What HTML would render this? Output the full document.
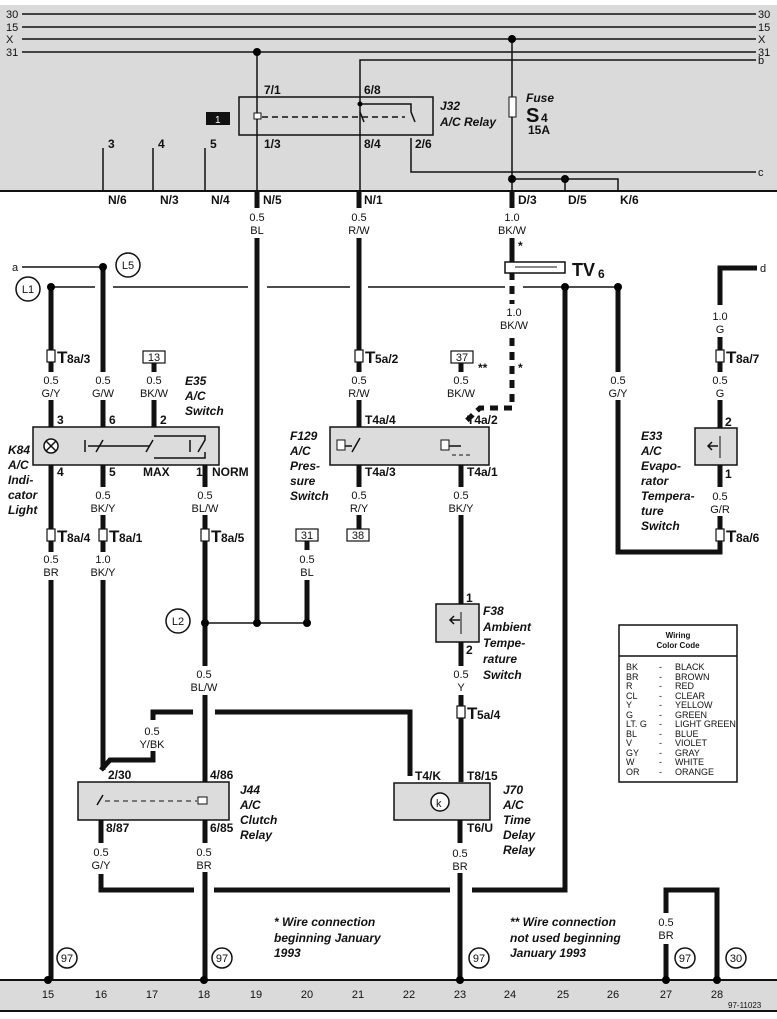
<!DOCTYPE html>
<html><head><meta charset="utf-8"><style>
html,body{margin:0;padding:0;background:#fff}
svg{display:block}
text{font-family:"Liberation Sans",Arial,sans-serif;fill:#111}
.b{font-weight:bold;font-size:12px}
.i{font-weight:bold;font-style:italic;font-size:12px}
.s{font-size:11px}
.th{stroke:#111;stroke-width:5;fill:none}
.tn{stroke:#111;stroke-width:1.5;fill:none}
.bx{fill:#dcdcdc;stroke:#111;stroke-width:1.5}
</style></head><body>
<svg width="777" height="1019" viewBox="0 0 777 1019" xmlns="http://www.w3.org/2000/svg">
<rect x="0" y="5" width="777" height="186" fill="#dadada"/>
<rect x="0" y="980" width="777" height="31" fill="#dadada"/>
<line x1="0" y1="191" x2="777" y2="191" stroke="#111" stroke-width="2"/>
<line x1="0" y1="980" x2="777" y2="980" stroke="#111" stroke-width="2"/>
<line x1="0" y1="1011" x2="777" y2="1011" stroke="#111" stroke-width="2"/>
<g class="tn">
<line x1="22" y1="14" x2="756" y2="14"/><line x1="22" y1="27" x2="756" y2="27"/>
<line x1="22" y1="39" x2="756" y2="39"/><line x1="22" y1="52" x2="756" y2="52"/>
<polyline points="756,60 360,60 360,90"/>
<line x1="257" y1="52" x2="257" y2="191"/>
<line x1="360" y1="90" x2="360" y2="191"/>
<line x1="512" y1="39" x2="512" y2="191"/>
<polyline points="411,138 411,172 756,172"/>
<polyline points="512,179 618,179 618,191"/><line x1="565" y1="179" x2="565" y2="191"/>
<line x1="103" y1="148" x2="103" y2="191"/><line x1="153" y1="148" x2="153" y2="191"/><line x1="205" y1="148" x2="205" y2="191"/>
</g>
<g class="s"><text x="6" y="18">30</text><text x="6" y="31">15</text><text x="6" y="43">X</text><text x="6" y="56">31</text>
<text x="758" y="18">30</text><text x="758" y="31">15</text><text x="758" y="43">X</text><text x="758" y="56">31</text><text x="758" y="64">b</text><text x="758" y="176">c</text></g>
<circle cx="257" cy="52" r="4"/><circle cx="512" cy="39" r="4"/><circle cx="512" cy="179" r="4"/><circle cx="565" cy="179" r="4"/>
<rect x="239" y="97" width="194" height="38" fill="none" stroke="#111" stroke-width="1.5"/>
<rect x="206" y="112" width="24" height="13" fill="#111"/><text x="215" y="123" style="fill:#fff;font-size:10px">1</text>
<rect x="254" y="113" width="7" height="6" fill="#fff" stroke="#111"/>
<line x1="262" y1="117" x2="405" y2="117" stroke="#111" stroke-dasharray="6,4" stroke-width="1.5"/>
<polyline points="360,104 411,104 411,112 415,122" class="tn"/><circle cx="360" cy="104" r="2.5"/>
<line x1="360" y1="112" x2="364" y2="122" class="tn"/>
<text class="i" x="440" y="110">J32</text><text class="i" x="440" y="126">A/C Relay</text>
<g class="b"><text x="264" y="94">7/1</text><text x="364" y="94">6/8</text><text x="264" y="148">1/3</text><text x="364" y="148">8/4</text><text x="415" y="148">2/6</text>
<text x="108" y="148">3</text><text x="158" y="148">4</text><text x="210" y="148">5</text>
<text x="108" y="204">N/6</text><text x="160" y="204">N/3</text><text x="211" y="204">N/4</text><text x="263" y="204">N/5</text><text x="364" y="204">N/1</text><text x="518" y="204">D/3</text><text x="568" y="204">D/5</text><text x="620" y="204">K/6</text></g>
<rect x="509" y="97" width="7" height="20" fill="#fff" stroke="#111"/>
<text class="i" x="526" y="102">Fuse</text><text x="526" y="122" style="font-weight:bold;font-size:20px">S</text><text class="b" x="541" y="122">4</text><text class="b" x="528" y="134">15A</text>
<g class="s" text-anchor="middle">
<text x="257" y="221">0.5</text><text x="257" y="234">BL</text>
<text x="359" y="221">0.5</text><text x="359" y="234">R/W</text>
<text x="512" y="221">1.0</text><text x="512" y="234">BK/W</text>
<text x="514" y="316">1.0</text><text x="514" y="329">BK/W</text>
<text x="51" y="384">0.5</text><text x="51" y="397">G/Y</text>
<text x="103" y="384">0.5</text><text x="103" y="397">G/W</text>
<text x="154" y="384">0.5</text><text x="154" y="397">BK/W</text>
<text x="359" y="384">0.5</text><text x="359" y="397">R/W</text>
<text x="461" y="384">0.5</text><text x="461" y="397">BK/W</text>
<text x="618" y="384">0.5</text><text x="618" y="397">G/Y</text>
<text x="720" y="320">1.0</text><text x="720" y="333">G</text>
<text x="720" y="384">0.5</text><text x="720" y="397">G</text>
<text x="103" y="499">0.5</text><text x="103" y="512">BK/Y</text>
<text x="205" y="499">0.5</text><text x="205" y="512">BL/W</text>
<text x="359" y="499">0.5</text><text x="359" y="512">R/Y</text>
<text x="461" y="499">0.5</text><text x="461" y="512">BK/Y</text>
<text x="720" y="500">0.5</text><text x="720" y="513">G/R</text>
<text x="51" y="563">0.5</text><text x="51" y="576">BR</text>
<text x="103" y="563">1.0</text><text x="103" y="576">BK/Y</text>
<text x="307" y="563">0.5</text><text x="307" y="576">BL</text>
<text x="204" y="678">0.5</text><text x="204" y="691">BL/W</text>
<text x="461" y="678">0.5</text><text x="461" y="691">Y</text>
<text x="152" y="735">0.5</text><text x="152" y="748">Y/BK</text>
<text x="101" y="856">0.5</text><text x="101" y="869">G/Y</text>
<text x="204" y="856">0.5</text><text x="204" y="869">BR</text>
<text x="460" y="857">0.5</text><text x="460" y="870">BR</text>
<text x="666" y="926">0.5</text><text x="666" y="939">BR</text>
</g>
<g class="th">
<line x1="257" y1="191" x2="257" y2="208"/><line x1="257" y1="238" x2="257" y2="623"/>
<line x1="359" y1="191" x2="359" y2="208"/><line x1="359" y1="238" x2="359" y2="372"/><line x1="359" y1="400" x2="359" y2="427"/>
<line x1="512" y1="191" x2="512" y2="208"/><line x1="512" y1="238" x2="512" y2="262"/>
<line x1="51" y1="287" x2="51" y2="372"/><line x1="51" y1="400" x2="51" y2="427"/>
<line x1="103" y1="267" x2="103" y2="372"/><line x1="103" y1="400" x2="103" y2="427"/>
<line x1="154" y1="363" x2="154" y2="372"/><line x1="154" y1="400" x2="154" y2="427"/>
<line x1="461" y1="363" x2="461" y2="372"/>
<line x1="51" y1="465" x2="51" y2="552"/><line x1="51" y1="580" x2="51" y2="980"/>
<line x1="103" y1="465" x2="103" y2="487"/><line x1="103" y1="515" x2="103" y2="552"/><line x1="103" y1="580" x2="103" y2="770"/>
<line x1="205" y1="465" x2="205" y2="487"/><line x1="205" y1="515" x2="205" y2="666"/><line x1="205" y1="695" x2="205" y2="782"/>
<line x1="359" y1="465" x2="359" y2="487"/><line x1="359" y1="515" x2="359" y2="529"/>
<line x1="461" y1="465" x2="461" y2="487"/><line x1="461" y1="515" x2="461" y2="604"/>
<line x1="461" y1="642" x2="461" y2="666"/><line x1="461" y1="695" x2="461" y2="782"/>
<line x1="307" y1="541" x2="307" y2="550"/><line x1="307" y1="580" x2="307" y2="623"/>
<polyline points="565,287 565,890 472,890"/><line x1="450" y1="890" x2="214" y2="890"/><polyline points="194,890 101,890 101,874"/>
<line x1="101" y1="820" x2="101" y2="843"/>
<line x1="205" y1="820" x2="205" y2="843"/><line x1="205" y1="872" x2="205" y2="980"/>
<line x1="460" y1="820" x2="460" y2="843"/><line x1="460" y1="873" x2="460" y2="980"/>
<polyline points="618,287 618,372"/><polyline points="618,400 618,552 720,552 720,535"/>
<polyline points="757,268 720,268 720,305"/><line x1="720" y1="337" x2="720" y2="372"/><line x1="720" y1="400" x2="720" y2="428"/>
<line x1="720" y1="465" x2="720" y2="487"/><line x1="720" y1="516" x2="720" y2="530"/>
<polyline points="101,770 110,760 153,760 153,751"/><polyline points="153,720 153,712 193,712"/><polyline points="215,712 410,712 410,776"/>
<polyline points="666,913 666,890 717,890 717,980"/><line x1="666" y1="944" x2="666" y2="980"/>
</g>
<line x1="512" y1="272" x2="512" y2="304" stroke="#111" stroke-width="5" stroke-dasharray="8,6"/>
<polyline points="512,338 512,408 480,408 463,424" fill="none" stroke="#111" stroke-width="5" stroke-dasharray="8,6"/>
<g class="tn"><line x1="22" y1="267" x2="103" y2="267"/>
<line x1="51" y1="287" x2="95" y2="287"/><line x1="113" y1="287" x2="248" y2="287"/><line x1="267" y1="287" x2="350" y2="287"/><line x1="368" y1="287" x2="505" y2="287"/><line x1="523" y1="287" x2="618" y2="287"/>
<line x1="205" y1="623" x2="307" y2="623"/></g>
<g><circle cx="103" cy="267" r="4"/><circle cx="51" cy="287" r="4"/><circle cx="565" cy="287" r="4"/><circle cx="618" cy="287" r="4"/>
<circle cx="205" cy="623" r="4"/><circle cx="257" cy="623" r="4"/><circle cx="307" cy="623" r="4"/>
<circle cx="48" cy="980" r="4"/><circle cx="204" cy="980" r="4"/><circle cx="460" cy="980" r="4"/><circle cx="666" cy="980" r="4"/><circle cx="717" cy="980" r="4"/></g>
<text class="s" x="12" y="271">a</text><text class="s" x="760" y="272">d</text>
<g fill="#fff" stroke="#111" stroke-width="1.5">
<circle cx="28" cy="289" r="12"/><circle cx="128" cy="265" r="12"/><circle cx="178" cy="621" r="12"/>
<circle cx="67" cy="958" r="10"/><circle cx="222" cy="958" r="10"/><circle cx="479" cy="958" r="10"/><circle cx="685" cy="958" r="10"/><circle cx="736" cy="958" r="10"/></g>
<g class="s" text-anchor="middle"><text x="28" y="293">L1</text><text x="128" y="269">L5</text><text x="178" y="625">L2</text>
<text x="67" y="962">97</text><text x="222" y="962">97</text><text x="479" y="962">97</text><text x="685" y="962">97</text><text x="736" y="962">30</text></g>
<rect x="505" y="262" width="60" height="11" fill="#fff" stroke="#111" stroke-width="1.5"/>
<line x1="515" y1="267" x2="557" y2="267" stroke="#111"/>
<text x="572" y="276" style="font-weight:bold;font-size:18px">TV</text><text class="b" x="598" y="278">6</text>
<text class="b" x="518" y="250">*</text><text class="b" x="518" y="372">*</text><text class="b" x="478" y="372">**</text>
<g fill="#fff" stroke="#111" stroke-width="1.2">
<rect x="47" y="350" width="8" height="12"/><rect x="355" y="350" width="8" height="12"/><rect x="716" y="350" width="8" height="12"/>
<rect x="47" y="529" width="8" height="12"/><rect x="99" y="529" width="8" height="12"/><rect x="201" y="529" width="8" height="12"/><rect x="716" y="529" width="8" height="12"/>
<rect x="457" y="706" width="8" height="12"/>
<rect x="143" y="351" width="22" height="12"/><rect x="451" y="351" width="22" height="12"/><rect x="296" y="529" width="22" height="12"/><rect x="347" y="529" width="22" height="12"/>
</g>
<g style="font-weight:bold;font-size:17px">
<text x="57" y="363">T</text><text x="365" y="363">T</text><text x="726" y="363">T</text>
<text x="57" y="542">T</text><text x="109" y="542">T</text><text x="211" y="542">T</text><text x="726" y="542">T</text><text x="467" y="719">T</text></g>
<g class="b"><text x="67" y="363">8a/3</text><text x="375" y="363">5a/2</text><text x="736" y="363">8a/7</text>
<text x="67" y="542">8a/4</text><text x="119" y="542">8a/1</text><text x="221" y="542">8a/5</text><text x="736" y="542">8a/6</text><text x="477" y="719">5a/4</text></g>
<g class="s" text-anchor="middle"><text x="154" y="361">13</text><text x="462" y="361">37</text><text x="307" y="539">31</text><text x="358" y="539">38</text></g>
<rect class="bx" x="33" y="427" width="186" height="38"/>
<circle cx="51" cy="446" r="7" fill="#fff" stroke="#111" stroke-width="1.5"/><path d="M46 441 L56 451 M56 441 L46 451" stroke="#111" stroke-width="1.5"/>
<g class="tn"><line x1="88" y1="446" x2="150" y2="446"/><line x1="85" y1="440" x2="85" y2="452"/><line x1="96" y1="452" x2="103" y2="440"/><line x1="146" y1="452" x2="153" y2="440"/>
<polyline points="154,436 205,436 205,440 198,452"/><polyline points="154,458 205,458 205,452"/><line x1="190" y1="440" x2="190" y2="452"/></g>
<g class="b"><text x="57" y="424">3</text><text x="109" y="424">6</text><text x="160" y="424">2</text><text x="57" y="476">4</text><text x="109" y="476">5</text><text x="143" y="476">MAX</text><text x="196" y="476">1</text><text x="212" y="476">NORM</text></g>
<text class="i" x="185" y="385">E35</text><text class="i" x="185" y="400">A/C</text><text class="i" x="185" y="415">Switch</text>
<text class="i" x="8" y="454">K84</text><text class="i" x="8" y="469">A/C</text><text class="i" x="8" y="484">Indi-</text><text class="i" x="8" y="499">cator</text><text class="i" x="8" y="514">Light</text>
<rect class="bx" x="330" y="427" width="159" height="38"/>
<rect x="337" y="440" width="8" height="10" fill="#fff" stroke="#111"/><line x1="345" y1="446" x2="352" y2="446" class="tn"/><line x1="352" y1="452" x2="360" y2="438" class="tn"/>
<rect x="441" y="440" width="8" height="10" fill="#fff" stroke="#111"/><line x1="449" y1="446" x2="461" y2="446" class="tn"/><line x1="452" y1="455" x2="472" y2="455" stroke="#111" stroke-dasharray="4,3"/>
<g class="b"><text x="365" y="424">T4a/4</text><text x="467" y="424">T4a/2</text><text x="365" y="476">T4a/3</text><text x="467" y="476">T4a/1</text></g>
<text class="i" x="290" y="440">F129</text><text class="i" x="290" y="455">A/C</text><text class="i" x="290" y="470">Pres-</text><text class="i" x="290" y="485">sure</text><text class="i" x="290" y="500">Switch</text>
<rect class="bx" x="695" y="428" width="42" height="37"/>
<path d="M708 446 L718 446 M712 442 L708 446 L712 450" stroke="#111" fill="none" stroke-width="1.5"/><line x1="720" y1="436" x2="720" y2="458" stroke="#111"/>
<g class="b"><text x="725" y="426">2</text><text x="725" y="478">1</text></g>
<text class="i" x="641" y="440">E33</text><text class="i" x="641" y="455">A/C</text><text class="i" x="641" y="470">Evapo-</text><text class="i" x="641" y="485">rator</text><text class="i" x="641" y="500">Tempera-</text><text class="i" x="641" y="515">ture</text><text class="i" x="641" y="530">Switch</text>
<rect class="bx" x="436" y="604" width="43" height="38"/>
<path d="M450 620 L460 620 M454 616 L450 620 L454 624" stroke="#111" fill="none" stroke-width="1.5"/><line x1="461" y1="612" x2="461" y2="634" stroke="#111"/>
<g class="b"><text x="466" y="602">1</text><text x="466" y="654">2</text></g>
<text class="i" x="483" y="615">F38</text><text class="i" x="483" y="631">Ambient</text><text class="i" x="483" y="647">Tempe-</text><text class="i" x="483" y="663">rature</text><text class="i" x="483" y="679">Switch</text>
<rect x="619" y="625" width="118" height="157" fill="#fff" stroke="#111" stroke-width="1.5"/>
<line x1="619" y1="656" x2="737" y2="656" stroke="#111" stroke-width="1.5"/>
<g style="font-size:8px;font-weight:bold" text-anchor="middle"><text x="678" y="638">Wiring</text><text x="678" y="648">Color Code</text></g>
<g style="font-size:9px"><text x="626" y="670">BK</text><text x="626" y="680">BR</text><text x="626" y="689">R</text><text x="626" y="699">CL</text><text x="626" y="708">Y</text><text x="626" y="718">G</text><text x="626" y="727">LT. G</text><text x="626" y="737">BL</text><text x="626" y="746">V</text><text x="626" y="756">GY</text><text x="626" y="765">W</text><text x="626" y="775">OR</text>
<text x="659" y="670">-</text><text x="659" y="680">-</text><text x="659" y="689">-</text><text x="659" y="699">-</text><text x="659" y="708">-</text><text x="659" y="718">-</text><text x="659" y="727">-</text><text x="659" y="737">-</text><text x="659" y="746">-</text><text x="659" y="756">-</text><text x="659" y="765">-</text><text x="659" y="775">-</text>
<text x="675" y="670">BLACK</text><text x="675" y="680">BROWN</text><text x="675" y="689">RED</text><text x="675" y="699">CLEAR</text><text x="675" y="708">YELLOW</text><text x="675" y="718">GREEN</text><text x="675" y="727">LIGHT GREEN</text><text x="675" y="737">BLUE</text><text x="675" y="746">VIOLET</text><text x="675" y="756">GRAY</text><text x="675" y="765">WHITE</text><text x="675" y="775">ORANGE</text></g>
<rect class="bx" x="78" y="782" width="151" height="38"/>
<line x1="97" y1="805" x2="103" y2="795" class="tn"/><line x1="105" y1="801" x2="197" y2="801" stroke="#111" stroke-dasharray="5,4"/>
<rect x="198" y="797" width="9" height="7" fill="#fff" stroke="#111"/>
<g class="b"><text x="108" y="779">2/30</text><text x="210" y="779">4/86</text><text x="106" y="832">8/87</text><text x="210" y="832">6/85</text></g>
<text class="i" x="240" y="794">J44</text><text class="i" x="240" y="809">A/C</text><text class="i" x="240" y="824">Clutch</text><text class="i" x="240" y="839">Relay</text>
<rect class="bx" x="394" y="783" width="96" height="37"/>
<circle cx="440" cy="802" r="9" fill="#fff" stroke="#111" stroke-width="1.5"/><text x="436" y="807" class="s">k</text>
<g class="b"><text x="415" y="780">T4/K</text><text x="467" y="780">T8/15</text><text x="467" y="832">T6/U</text></g>
<text class="i" x="503" y="794">J70</text><text class="i" x="503" y="809">A/C</text><text class="i" x="503" y="824">Time</text><text class="i" x="503" y="839">Delay</text><text class="i" x="503" y="854">Relay</text>
<text class="i" x="274" y="926">* Wire connection</text><text class="i" x="274" y="942">beginning January</text><text class="i" x="274" y="957">1993</text>
<text class="i" x="510" y="926">** Wire connection</text><text class="i" x="510" y="942">not used beginning</text><text class="i" x="510" y="957">January 1993</text>
<g class="s" text-anchor="middle"><text x="48" y="998">15</text><text x="101" y="998">16</text><text x="152" y="998">17</text><text x="204" y="998">18</text><text x="256" y="998">19</text><text x="307" y="998">20</text><text x="358" y="998">21</text><text x="409" y="998">22</text><text x="460" y="998">23</text><text x="510" y="998">24</text><text x="563" y="998">25</text><text x="613" y="998">26</text><text x="666" y="998">27</text><text x="717" y="998">28</text></g>
<text x="728" y="1008" style="font-size:8px">97-11023</text>
</svg>
</body></html>
